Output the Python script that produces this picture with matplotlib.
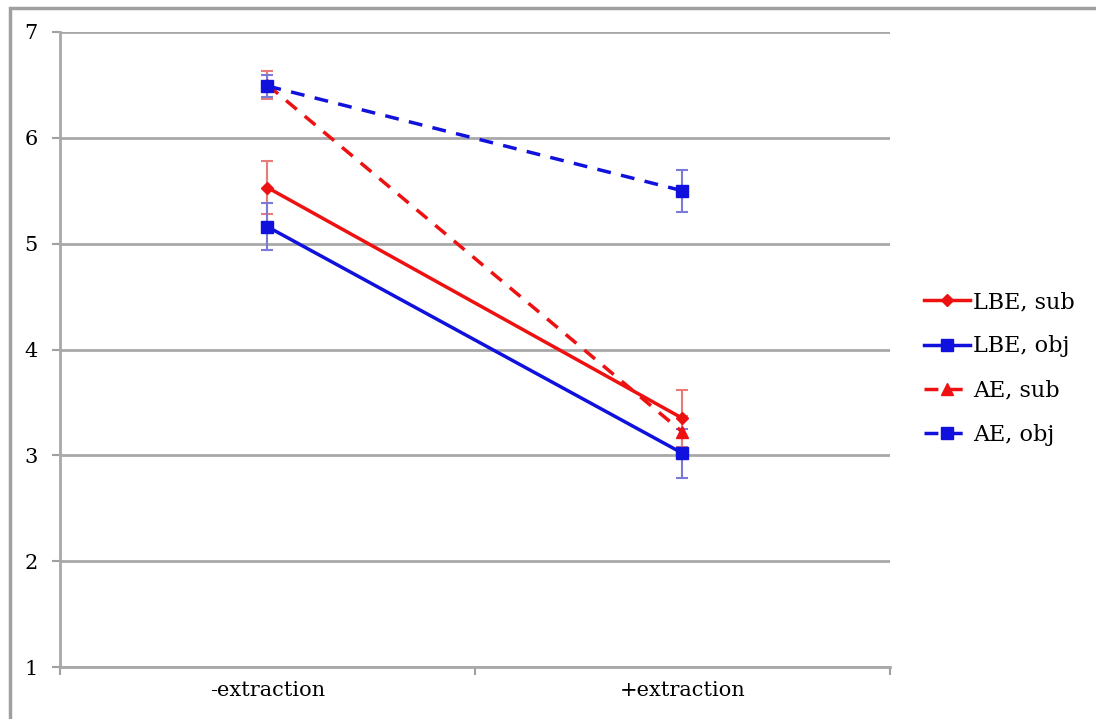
import matplotlib.pyplot as plt
from matplotlib.patches import Rectangle

plt.rcParams['font.family'] = ['DejaVu Serif']

# data
categories = ['-extraction', '+extraction']
lbe_sub = [5.53, 3.35]
lbe_sub_err = [0.25, 0.27]
lbe_obj = [5.16, 3.02]
lbe_obj_err = [0.22, 0.23]
ae_sub = [6.50, 3.22]
ae_sub_err = [0.13, 0.15]
ae_obj = [6.49, 5.50]
ae_obj_err = [0.10, 0.20]

fig = plt.figure(figsize=(10.96, 7.19), dpi=100)
ax = fig.add_axes([0.0547, 0.0723, 0.7573, 0.8832])

# outer chart border
fig.patches.append(Rectangle((0.009, -0.01), 1.0, 0.999, transform=fig.transFigure,
                             fill=False, edgecolor='#a0a0a0', linewidth=2.5))

x = [0, 1]
series = [
    (lbe_sub, lbe_sub_err, '#ee1111', '-', 'D', 6, 'LBE, sub', '#e87a7a'),
    (lbe_obj, lbe_obj_err, '#1111dd', '-', 's', 9, 'LBE, obj', '#7a7ad8'),
    (ae_sub, ae_sub_err, '#ee1111', '--', '^', 8, 'AE, sub', '#e87a7a'),
    (ae_obj, ae_obj_err, '#1111dd', '--', 's', 9, 'AE, obj', '#7a7ad8'),
]
for y, err, col, ls, mk, ms, lab, ecol in series:
    ax.errorbar(x, y, yerr=err, fmt='none', ecolor=ecol, elinewidth=1.5,
                capsize=4, capthick=1.5, zorder=2)
    ax.plot(x, y, color=col, linestyle=ls, linewidth=2.5, marker=mk,
            markersize=ms, label=lab, zorder=3, dashes=(4, 3) if ls == '--' else (None, None))

ax.set_xlim(-0.5, 1.5)
ax.set_ylim(1, 7)
ax.set_yticks(range(1, 8))
ax.set_xticks([-0.5, 0.5, 1.5])
ax.set_xticklabels([])
ax.set_xticks(x, minor=True)
ax.set_xticklabels(categories, minor=True)
ax.tick_params(axis='x', which='minor', length=0, pad=10, labelsize=15)
ax.tick_params(axis='x', which='major', length=6, color='#a0a0a0', width=1.5)
ax.tick_params(axis='y', length=6, color='#a0a0a0', width=1.5, labelsize=15, pad=10)

ax.grid(axis='y', color='#a8a8a8', linewidth=2)
ax.set_axisbelow(True)
for s in ['top', 'right']:
    ax.spines[s].set_visible(False)
for s in ['left', 'bottom']:
    ax.spines[s].set_color('#a8a8a8')
    ax.spines[s].set_linewidth(2)

ax.legend(loc='center left', bbox_to_anchor=(1.022, 0.47), frameon=False,
          fontsize=16, handlelength=2.1, handletextpad=0.1, labelspacing=1.0,
          borderaxespad=0.3)

fig.savefig('out.png', dpi=100)
